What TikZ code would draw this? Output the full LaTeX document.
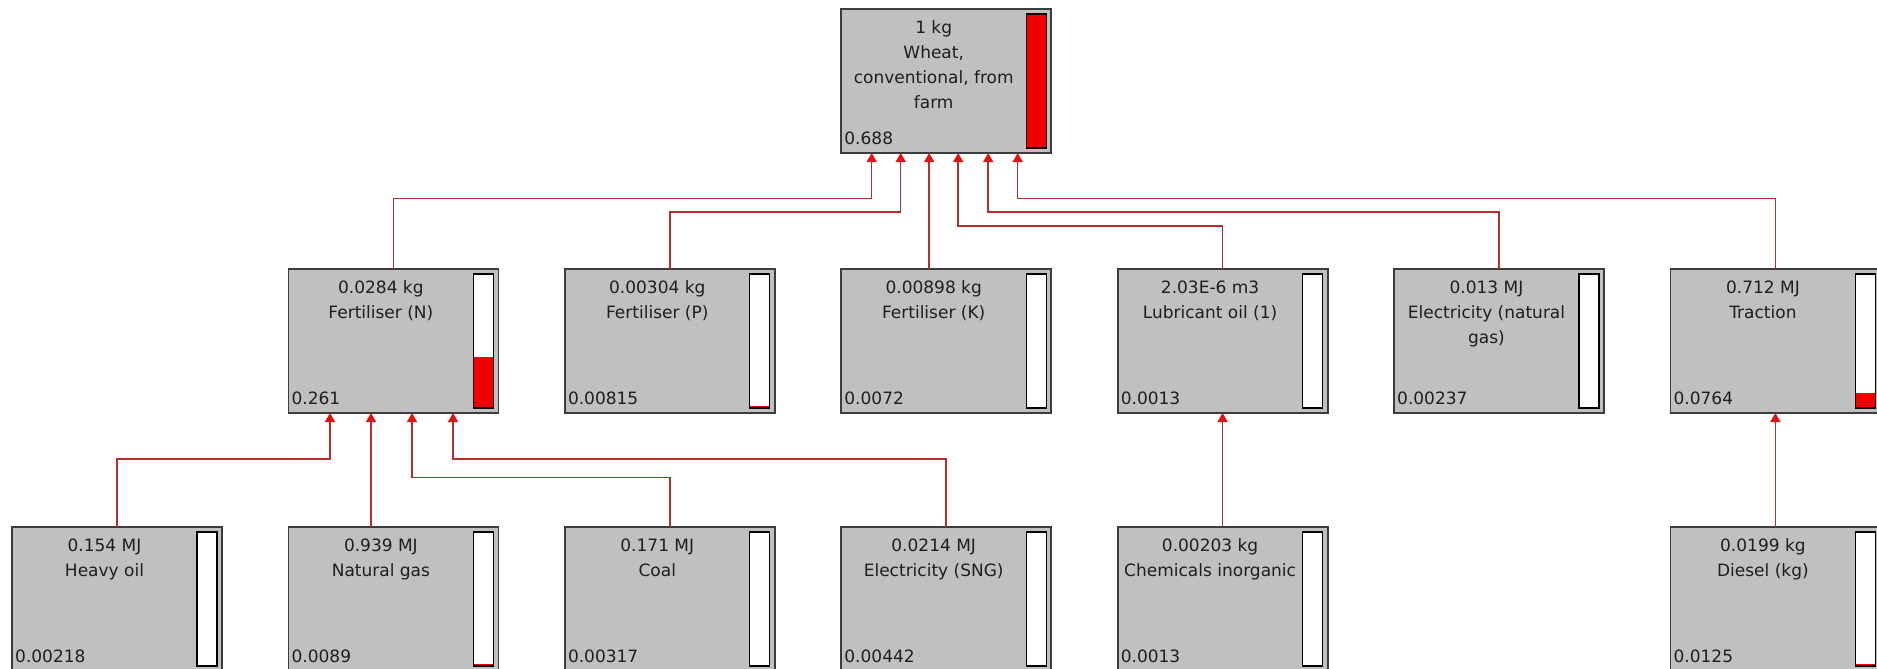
\documentclass[tikz,border=0pt]{standalone}
\usepackage{fontspec}
\setmainfont{DejaVu Sans}
\usetikzlibrary{arrows.meta,calc}
\definecolor{boxgray}{RGB}{192,192,192}
\definecolor{boxline}{RGB}{60,60,60}
\definecolor{connline}{RGB}{185,45,45}
\definecolor{arrowred}{RGB}{225,20,20}
\definecolor{barred}{RGB}{240,0,0}
\definecolor{txt}{RGB}{30,30,30}
% #1 name, #2 x, #3 y, #4 text, #5 value, #6 bar fraction
\newcommand\procbox[6]{%
  \node[box] (#1) at (#2,#3) {};
  \node[lbl] (#1-t) at ($(#1.north west)+(92.5,7)$) {\strut #4};
  \node[val] (#1-v) at ($(#1.south west)+(3,-8.5)$) {#5};
  \node[bar, path picture={\fill[barred] (path picture bounding box.south west) rectangle ([yshift=#6*134pt]path picture bounding box.south east);}] (#1-b) at ($(#1.north east)+(-5,5)$) {};
}
\begin{document}
\begin{tikzpicture}[x=1pt,y=-1pt,
  box/.style={draw=boxline, line width=1.8pt, fill=boxgray, minimum width=210pt, minimum height=144pt, inner sep=0pt, outer sep=0pt, anchor=north west},
  lbl/.style={anchor=north, align=center, inner sep=0pt, text=txt, font=\fontsize{17}{25}\selectfont},
  val/.style={anchor=base west, inner sep=0pt, text=txt, font=\fontsize{17}{25}\selectfont},
  bar/.style={draw=black, line width=1.3pt, fill=white, minimum width=20pt, minimum height=134pt, inner sep=0pt, outer sep=0pt, anchor=north east},
  conn/.style={draw=connline, line width=1.5pt, -{Triangle[width=10pt,length=9pt,color=arrowred]}}]
\fill[white] (0,0) rectangle (1877,669);
\clip (0,0) rectangle (1877,669);
% top
\procbox{T}{841.2}{9}{1 kg\\Wheat,\\conventional, from\\farm}{0.688}{1}
% middle row
\procbox{N}{288.4}{269}{0.0284 kg\\Fertiliser (N)}{0.261}{0.3794}
\procbox{P}{564.8}{269}{0.00304 kg\\Fertiliser (P)}{0.00815}{0.01185}
\procbox{K}{841.2}{269}{0.00898 kg\\Fertiliser (K)}{0.0072}{0.01047}
\procbox{L}{1117.6}{269}{2.03E-6 m3\\Lubricant oil (1)}{0.0013}{0.00189}
\procbox{E}{1394}{269}{0.013 MJ\\Electricity (natural\\gas)}{0.00237}{0.00344}
\procbox{R}{1670.4}{269}{0.712 MJ\\Traction}{0.0764}{0.1110}
% bottom row
\procbox{HO}{12}{527}{0.154 MJ\\Heavy oil}{0.00218}{0.00317}
\procbox{NG}{288.4}{527}{0.939 MJ\\Natural gas}{0.0089}{0.01294}
\procbox{C}{564.8}{527}{0.171 MJ\\Coal}{0.00317}{0.00461}
\procbox{ES}{841.2}{527}{0.0214 MJ\\Electricity (SNG)}{0.00442}{0.00642}
\procbox{CH}{1117.6}{527}{0.00203 kg\\Chemicals inorganic}{0.0013}{0.00189}
\procbox{D}{1670.4}{527}{0.0199 kg\\Diesel (kg)}{0.0125}{0.01817}
% entry points on the top box
\coordinate (T-a1) at ($(T.south west)+(30.5,0)$);
\coordinate (T-a2) at ($(T.south west)+(59.5,0)$);
\coordinate (T-a3) at ($(T.south west)+(88,0)$);
\coordinate (T-a4) at ($(T.south west)+(117,0)$);
\coordinate (T-a5) at ($(T.south west)+(147,0)$);
\coordinate (T-a6) at ($(T.south west)+(176.5,0)$);
% entry points on Fertiliser (N)
\coordinate (N-a1) at ($(N.south west)+(41.6,0)$);
\coordinate (N-a2) at ($(N.south west)+(82.6,0)$);
\coordinate (N-a3) at ($(N.south west)+(123.6,0)$);
\coordinate (N-a4) at ($(N.south west)+(164.6,0)$);
% connectors to the top box
\draw[conn] (N.north) |- (T-a1 |- 0,198.5) -- (T-a1);
\draw[conn] (P.north) |- (T-a2 |- 0,212) -- (T-a2);
\draw[conn] (K.north -| T-a3) -- (T-a3);
\draw[conn] (L.north) |- (T-a4 |- 0,226) -- (T-a4);
\draw[conn] (E.north) |- (T-a5 |- 0,212) -- (T-a5);
\draw[conn] (R.north) |- (T-a6 |- 0,198.5) -- (T-a6);
% connectors to Fertiliser (N)
\draw[conn] (HO.north) |- (N-a1 |- 0,459) -- (N-a1);
\draw[conn] (NG.north -| N-a2) -- (N-a2);
\draw[conn] (C.north) |- (N-a3 |- 0,477.5) -- (N-a3);
\draw[conn] (ES.north) |- (N-a4 |- 0,459) -- (N-a4);
% single connectors
\draw[conn] (CH.north) -- (L.south);
\draw[conn] (D.north) -- (R.south);
\end{tikzpicture}
\end{document}
